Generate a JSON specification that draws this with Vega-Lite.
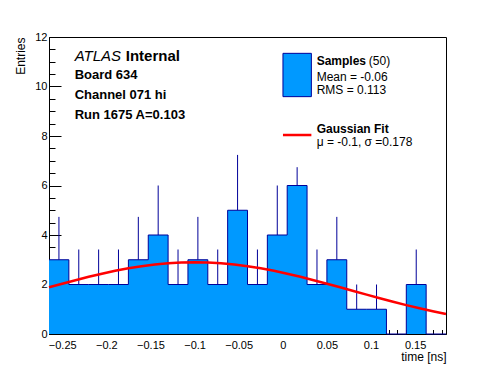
{
  "$schema": "https://vega.github.io/schema/vega-lite/v6.json",
  "width": 397,
  "height": 297,
  "autosize": {"type": "none"},
  "padding": {"left": 49, "top": 37, "right": 50, "bottom": 38},
  "background": "white",
  "config": {
    "view": {"stroke": "black", "strokeWidth": 1},
    "axis": {"grid": false, "zindex": 1, "domainColor": "black", "tickColor": "black", "labelColor": "black", "titleColor": "black", "labelFont": "Liberation Sans", "titleFont": "Liberation Sans", "labelFontSize": 11, "titleFontSize": 12, "titleFontWeight": "normal", "labelOverlap": false, "labelFlush": false}
  },
  "datasets": {
    "hist": [
      {"x": -0.265, "y": 3}, {"x": -0.2425, "y": 2}, {"x": -0.22, "y": 2}, {"x": -0.1975, "y": 2},
      {"x": -0.175, "y": 3}, {"x": -0.1525, "y": 4}, {"x": -0.13, "y": 2}, {"x": -0.1075, "y": 3},
      {"x": -0.085, "y": 2}, {"x": -0.0625, "y": 5}, {"x": -0.04, "y": 2}, {"x": -0.0175, "y": 4},
      {"x": 0.005, "y": 6}, {"x": 0.0275, "y": 2}, {"x": 0.05, "y": 3}, {"x": 0.0725, "y": 1},
      {"x": 0.095, "y": 1}, {"x": 0.1175, "y": 0}, {"x": 0.14, "y": 2}, {"x": 0.1625, "y": 0},
      {"x": 0.185, "y": 0}
    ],
    "err": [
      {"x": -0.25375, "y": 3, "hi": 4.732}, {"x": -0.23125, "y": 2, "hi": 3.414},
      {"x": -0.20875, "y": 2, "hi": 3.414}, {"x": -0.18625, "y": 2, "hi": 3.414},
      {"x": -0.16375, "y": 3, "hi": 4.732}, {"x": -0.14125, "y": 4, "hi": 6},
      {"x": -0.11875, "y": 2, "hi": 3.414}, {"x": -0.09625, "y": 3, "hi": 4.732},
      {"x": -0.07375, "y": 2, "hi": 3.414}, {"x": -0.05125, "y": 5, "hi": 7.236},
      {"x": -0.02875, "y": 2, "hi": 3.414}, {"x": -0.00625, "y": 4, "hi": 6},
      {"x": 0.01625, "y": 6, "hi": 6.74}, {"x": 0.03875, "y": 2, "hi": 3.414},
      {"x": 0.06125, "y": 3, "hi": 4.732}, {"x": 0.08375, "y": 1, "hi": 2},
      {"x": 0.10625, "y": 1, "hi": 2}, {"x": 0.15125, "y": 2, "hi": 3.414}
    ],
    "fit": [
      {"x": -0.265, "y": 1.887}, {"x": -0.25, "y": 2.033}, {"x": -0.235, "y": 2.175}, {"x": -0.22, "y": 2.311},
      {"x": -0.205, "y": 2.437}, {"x": -0.19, "y": 2.552}, {"x": -0.175, "y": 2.654}, {"x": -0.16, "y": 2.74},
      {"x": -0.145, "y": 2.809}, {"x": -0.13, "y": 2.859}, {"x": -0.115, "y": 2.89}, {"x": -0.1, "y": 2.9},
      {"x": -0.085, "y": 2.89}, {"x": -0.07, "y": 2.859}, {"x": -0.055, "y": 2.809}, {"x": -0.04, "y": 2.74},
      {"x": -0.025, "y": 2.654}, {"x": -0.01, "y": 2.552}, {"x": 0.005, "y": 2.437}, {"x": 0.02, "y": 2.311},
      {"x": 0.035, "y": 2.175}, {"x": 0.05, "y": 2.033}, {"x": 0.065, "y": 1.887}, {"x": 0.08, "y": 1.739},
      {"x": 0.095, "y": 1.591}, {"x": 0.11, "y": 1.446}, {"x": 0.125, "y": 1.304}, {"x": 0.14, "y": 1.168},
      {"x": 0.155, "y": 1.039}, {"x": 0.17, "y": 0.918}, {"x": 0.185, "y": 0.805}
    ],
    "legbox": [{"x": 0.0002, "x2": 0.0324, "y": 11.34, "y2": 9.59}],
    "legline": [{"x": 0.0002, "x2": 0.0324, "y": 8.04}],
    "atlas": [{"x": -0.2359, "y": 11.03, "text": "ATLAS"}],
    "internal": [{"x": -0.178, "y": 11.03, "text": "Internal"}],
    "info": [
      {"x": -0.2359, "y": 10.3, "text": "Board 634"},
      {"x": -0.2359, "y": 9.475, "text": "Channel 071 hi"},
      {"x": -0.2359, "y": 8.687, "text": "Run 1675 A=0.103"}
    ],
    "legbold": [
      {"x": 0.0384, "y": 11.03, "text": "Samples"},
      {"x": 0.0384, "y": 8.28, "text": "Gaussian Fit"}
    ],
    "legplain": [
      {"x": 0.0975, "y": 11.03, "text": "(50)"},
      {"x": 0.0384, "y": 10.4, "text": "Mean = -0.06"},
      {"x": 0.0384, "y": 9.86, "text": "RMS = 0.113"},
      {"x": 0.0384, "y": 7.74, "text": "μ = -0.1, σ =0.178"}
    ]
  },
  "encoding": {
    "x": {
      "field": "x", "type": "quantitative",
      "scale": {"domain": [-0.265, 0.185], "nice": false, "zero": false},
      "axis": {
        "title": "time [ns]", "titleX": 397, "titleY": 26, "titleAlign": "right", "titleAnchor": "end", "titleBaseline": "alphabetic",
        "values": [-0.26,-0.25,-0.24,-0.23,-0.22,-0.21,-0.2,-0.19,-0.18,-0.17,-0.16,-0.15,-0.14,-0.13,-0.12,-0.11,-0.1,-0.09,-0.08,-0.07,-0.06,-0.05,-0.04,-0.03,-0.02,-0.01,0,0.01,0.02,0.03,0.04,0.05,0.06,0.07,0.08,0.09,0.1,0.11,0.12,0.13,0.14,0.15,0.16,0.17,0.18],
        "format": ".2~f",
        "labelExpr": "round(datum.value*100) % 5 === 0 ? datum.label : ''",
        "tickSize": {"condition": {"test": "round(datum.value*100) % 5 === 0", "value": -9}, "value": -4.5},
        "labelPadding": 14
      }
    },
    "y": {
      "field": "y", "type": "quantitative",
      "scale": {"domain": [0, 12], "nice": false, "zero": false},
      "axis": {
        "title": "Entries", "titleX": -25, "titleY": 0, "titleAlign": "right", "titleAnchor": "end", "titleBaseline": "alphabetic", "titleAngle": 270,
        "values": [0,0.5,1,1.5,2,2.5,3,3.5,4,4.5,5,5.5,6,6.5,7,7.5,8,8.5,9,9.5,10,10.5,11,11.5,12],
        "format": "~g",
        "labelExpr": "datum.value % 2 === 0 ? datum.label : ''",
        "tickSize": {"condition": {"test": "datum.value % 2 === 0", "value": -12}, "value": -6},
        "labelPadding": 14
      }
    }
  },
  "layer": [
    {"data": {"name": "err"}, "mark": {"type": "rule", "color": "#000099", "strokeWidth": 1}, "encoding": {"y2": {"field": "hi"}}},
    {"data": {"name": "hist"}, "mark": {"type": "area", "interpolate": "step-after", "color": "#0099ff", "opacity": 1}},
    {"data": {"name": "hist"}, "mark": {"type": "line", "interpolate": "step-after", "color": "#000099", "strokeWidth": 1}},
    {"data": {"name": "fit"}, "mark": {"type": "line", "color": "#ff0000", "strokeWidth": 2.5}},
    {"data": {"name": "legbox"}, "mark": {"type": "rect", "fill": "#0099ff", "stroke": "#000099", "strokeWidth": 1}, "encoding": {"x2": {"field": "x2"}, "y2": {"field": "y2"}}},
    {"data": {"name": "legline"}, "mark": {"type": "rule", "color": "#ff0000", "strokeWidth": 2.5}, "encoding": {"x2": {"field": "x2"}}},
    {"data": {"name": "atlas"}, "mark": {"type": "text", "align": "left", "baseline": "alphabetic", "font": "Liberation Sans", "fontSize": 15, "fontStyle": "italic", "color": "black"}, "encoding": {"text": {"field": "text"}}},
    {"data": {"name": "internal"}, "mark": {"type": "text", "align": "left", "baseline": "alphabetic", "font": "Liberation Sans", "fontSize": 15, "fontWeight": "bold", "color": "black"}, "encoding": {"text": {"field": "text"}}},
    {"data": {"name": "info"}, "mark": {"type": "text", "align": "left", "baseline": "alphabetic", "font": "Liberation Sans", "fontSize": 13, "fontWeight": "bold", "color": "black"}, "encoding": {"text": {"field": "text"}}},
    {"data": {"name": "legbold"}, "mark": {"type": "text", "align": "left", "baseline": "middle", "font": "Liberation Sans", "fontSize": 12, "fontWeight": "bold", "color": "black"}, "encoding": {"text": {"field": "text"}}},
    {"data": {"name": "legplain"}, "mark": {"type": "text", "align": "left", "baseline": "middle", "font": "Liberation Sans", "fontSize": 12, "color": "black"}, "encoding": {"text": {"field": "text"}}}
  ]
}
